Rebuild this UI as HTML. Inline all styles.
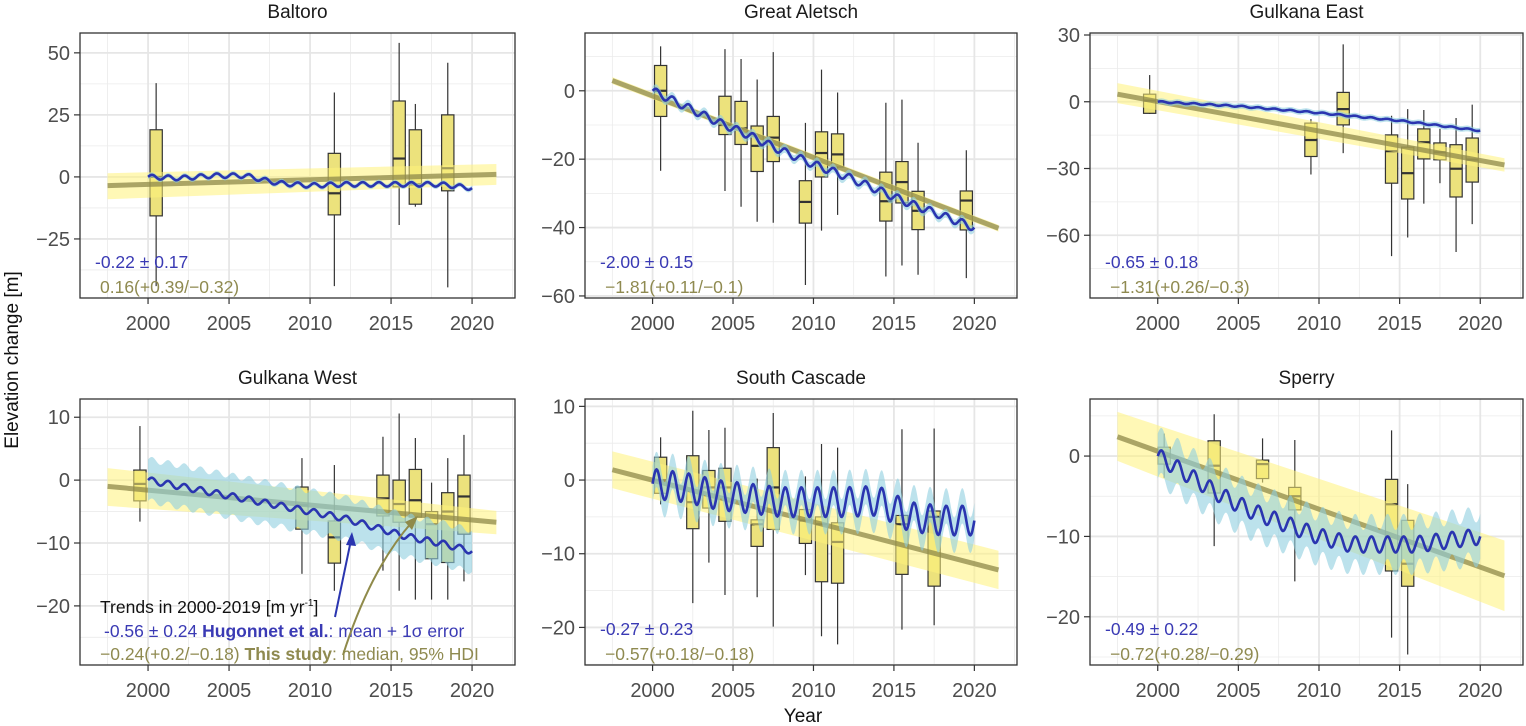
<!DOCTYPE html>
<html><head><meta charset="utf-8">
<style>
html,body{margin:0;padding:0;background:#fff;}
svg{display:block;font-family:"Liberation Sans",Arial,sans-serif;}
</style></head>
<body>
<svg id="chart" width="1526" height="726" viewBox="0 0 1526 726" xmlns="http://www.w3.org/2000/svg">
<text x="0" y="0" transform="translate(18,360) rotate(-90)" text-anchor="middle" font-size="19" fill="#111">Elevation change [m]</text>
<text x="803" y="722" text-anchor="middle" font-size="19" fill="#111">Year</text>
</svg>
<script>
// ---- Data: Baltoro ----
const baltoroBoxYear=[2000.5,2011.5,2015.5,2016.5,2018.5];
const baltoroLo=[-44,-44,-19.4,-12,-44.5];
const baltoroQ1=[-15.7,-15.3,-4,-11,-5.6];
const baltoroMed=[0,-6.6,7.4,-3,3.5];
const baltoroQ3=[19,9.5,30.6,19,25];
const baltoroHi=[37.8,34,54,29.4,46];
const baltoroHugYears=[2000,2002,2004,2006,2008,2010,2012,2014,2016,2018,2020];
const baltoroHugValues=[0,-0.5,0.5,0.5,-2.5,-3.5,-3,-3,-3,-3,-4.5];
const baltoroHugAmp=[0.9];
const baltoroHugErr=[1];
const baltoroTrend=[-3.5,1];
const baltoroTrendLo=[-9,-3.2];
const baltoroTrendHi=[1.5,5.2];
const baltoroLabels=["-0.22 ± 0.17","0.16(+0.39/−0.32)"];
const baltoroTicks=[50,25,0,-25];
// ---- Data: Great Aletsch ----
const aletschBoxYear=[2000.5,2004.5,2005.5,2006.5,2007.5,2009.5,2010.5,2011.5,2014.5,2015.5,2016.5,2019.5];
const aletschLo=[-23.4,-29.3,-33.9,-38.3,-38.6,-56.8,-40.9,-36.3,-54.3,-51.1,-53.8,-54.8];
const aletschQ1=[-7.5,-12.8,-15.7,-23.6,-20.7,-38.7,-25.2,-22.3,-38.1,-32.8,-40.6,-40.7];
const aletschMed=[0,-10,-11,-16.1,-13.7,-32.5,-18.2,-18.6,-32.3,-26.7,-35.1,-32.1];
const aletschQ3=[7.4,-1.6,-3.1,-10.3,-7.5,-26.3,-12,-12.6,-23.8,-20.7,-29.4,-29.3];
const aletschHi=[13,12.2,9.3,3.3,11.3,-9.4,6.2,-0.5,-3.5,-2.6,-15.2,-17.4];
const aletschHugYears=[2000,2002,2004,2006,2008,2010,2012,2014,2016,2018,2020];
const aletschHugValues=[0,-4.5,-9,-13,-17.5,-21.5,-25,-29,-33,-36.5,-40];
const aletschHugAmp=[1.1];
const aletschHugErr=[1.3];
const aletschTrend=[3,-40.2];
const aletschTrendLo=[2,-41.2];
const aletschTrendHi=[4,-39.2];
const aletschLabels=["-2.00 ± 0.15","−1.81(+0.11/−0.1)"];
const aletschTicks=[0,-20,-40,-60];
// ---- Data: Gulkana East ----
const gEastBoxYear=[1999.5,2009.5,2011.5,2014.5,2015.5,2016.5,2017.5,2018.5,2019.5];
const gEastLo=[-5.5,-32.7,-23.1,-69.4,-61,-45.8,-36.6,-67.5,-55];
const gEastQ1=[-5.2,-24.6,-10.4,-36.6,-43.7,-25.7,-26.1,-42.8,-36.1];
const gEastMed=[0.5,-17.2,-3.3,-22.2,-32.1,-18.2,-22.7,-30.1,-26];
const gEastQ3=[3.4,-9.6,4.2,-14.9,-20.4,-12.2,-18.5,-19.3,-16.3];
const gEastHi=[12,-7.8,25.8,-6.3,-3.3,-3.7,-12.2,-7.3,-1.3];
const gEastHugYears=[2000,2005,2010,2015,2020];
const gEastHugValues=[0,-2,-5,-8.5,-13];
const gEastHugAmp=[0.3];
const gEastHugErr=[1.3];
const gEastTrend=[3.4,-28.4];
const gEastTrendLo=[-0.6,-31.4];
const gEastTrendHi=[8.4,-25.4];
const gEastLabels=["-0.65 ± 0.18","−1.31(+0.26/−0.3)"];
const gEastTicks=[30,0,-30,-60];
// ---- Data: Gulkana West ----
const gWestBoxYear=[1999.5,2009.5,2011.5,2014.5,2015.5,2016.5,2017.5,2018.5,2019.5];
const gWestLo=[-6.6,-14.9,-17.6,-14.4,-17.6,-19,-19,-19,-16.1];
const gWestQ1=[-3.3,-7.8,-13.2,-5.7,-6.7,-5.9,-12.5,-13.1,-8.6];
const gWestMed=[-0.6,-4,-9.1,-2.9,-3.8,-3.2,-7,-5,-2.6];
const gWestQ3=[1.6,-1.1,-6.5,0.8,0,1.7,-5,-2,0.8];
const gWestHi=[8.6,3.5,2.4,6.9,10.6,6.7,-0.4,3.5,7.2];
const gWestHugYears=[2000,2002,2004,2006,2008,2010,2012,2014,2016,2018,2020];
const gWestHugValues=[0,-1,-2,-3,-4,-5,-6,-7.5,-9,-10,-11.3];
const gWestHugAmp=[0.5];
const gWestHugErr=[3.3];
const gWestTrend=[-1,-6.7];
const gWestTrendLo=[-4.1,-8.6];
const gWestTrendHi=[1.9,-4.9];
const gWestLabels=["-0.56 ± 0.24","−0.24(+0.2/−0.18)"];
const gWestTicks=[10,0,-10,-20];
// ---- Data: South Cascade ----
const sCascBoxYear=[2000.5,2002.5,2003.5,2004.5,2006.5,2007.5,2009.5,2010.5,2011.5,2015.5,2017.5];
const sCascLo=[-3.3,-16.7,-11.2,-15.6,-15.9,-19.9,-12.9,-21.2,-22.3,-20.3,-19.7];
const sCascQ1=[-1.8,-6.6,-3.8,-5.6,-9,-6.7,-8.6,-13.8,-14,-12.8,-14.4];
const sCascMed=[0,-3,-1,-1,-6,-1,-5.5,-6,-8.4,-6,-5];
const sCascQ3=[3.1,3.3,1.3,1.6,-5.4,4.4,-4,-5,-5.8,-4.8,-4.2];
const sCascHi=[5.8,9.4,6.8,7.1,0.2,9.1,0.5,4.9,4.4,6.9,7];
const sCascHugYears=[2000,2002,2004,2006,2008,2010,2012,2014,2016,2018,2020];
const sCascHugValues=[-0.5,-1,-2,-2.5,-3,-3,-3,-2.8,-5,-5.5,-5.5];
const sCascHugAmp=[2];
const sCascHugErr=[2.4];
const sCascTrend=[1.4,-12.2];
const sCascTrendLo=[-1.1,-14.8];
const sCascTrendHi=[3.9,-9.6];
const sCascLabels=["-0.27 ± 0.23","−0.57(+0.18/−0.18)"];
const sCascTicks=[10,0,-10,-20];
// ---- Data: Sperry ----
const sperryBoxYear=[2000.4,2003.5,2006.5,2008.5,2014.5,2015.5];
const sperryLo=[-2.7,-11.2,-3.3,-15.6,-22.6,-24.7];
const sperryQ1=[-1,-4.6,-2.8,-6.7,-14.3,-16.2];
const sperryMed=[0,-1.2,-1,-5,-6,-13.4];
const sperryQ3=[1.1,1.9,-0.5,-3.9,-2.9,-8];
const sperryHi=[2.8,5.2,2.2,2,3.2,-3.5];
const sperryHugYears=[2000,2002,2004,2006,2008,2010,2012,2014,2016,2018,2020];
const sperryHugValues=[0,-2.5,-5,-7,-8.5,-10,-11,-11,-11,-10.5,-10];
const sperryHugAmp=[1];
const sperryHugErr=[2.8];
const sperryTrend=[2.4,-14.9];
const sperryTrendLo=[-0.6,-19.3];
const sperryTrendHi=[5.5,-10.5];
const sperryLabels=["-0.49 ± 0.22","−0.72(+0.28/−0.29)"];
const sperryTicks=[0,-10,-20];

const xTicks=[2000,2005,2010,2015,2020];

const svg=document.getElementById('chart');
const NS='http://www.w3.org/2000/svg';
function mk(tag,attrs,parent){const e=document.createElementNS(NS,tag);for(const k in attrs)e.setAttribute(k,attrs[k]);(parent||svg).appendChild(e);return e;}

const panels=[
 {key:'baltoro',title:'Baltoro',L:80,R:515,T:33,B:298,y0:58,y1:-48.8,step:25,
  bx:baltoroBoxYear,lo:baltoroLo,q1:baltoroQ1,md:baltoroMed,q3:baltoroQ3,hi:baltoroHi,hy:baltoroHugYears,hv:baltoroHugValues,ha:baltoroHugAmp,he:baltoroHugErr,tr:baltoroTrend,tl:baltoroTrendLo,th:baltoroTrendHi,lab:baltoroLabels,ticks:baltoroTicks},
 {key:'great-aletsch',title:'Great Aletsch',L:585,R:1017,T:33,B:298,y0:16.9,y1:-60.6,step:20,
  bx:aletschBoxYear,lo:aletschLo,q1:aletschQ1,md:aletschMed,q3:aletschQ3,hi:aletschHi,hy:aletschHugYears,hv:aletschHugValues,ha:aletschHugAmp,he:aletschHugErr,tr:aletschTrend,tl:aletschTrendLo,th:aletschTrendHi,lab:aletschLabels,ticks:aletschTicks},
 {key:'gulkana-east',title:'Gulkana East',L:1090,R:1523,T:33,B:298,y0:30.9,y1:-88.2,step:30,
  bx:gEastBoxYear,lo:gEastLo,q1:gEastQ1,md:gEastMed,q3:gEastQ3,hi:gEastHi,hy:gEastHugYears,hv:gEastHugValues,ha:gEastHugAmp,he:gEastHugErr,tr:gEastTrend,tl:gEastTrendLo,th:gEastTrendHi,lab:gEastLabels,ticks:gEastTicks},
 {key:'gulkana-west',title:'Gulkana West',L:80,R:515,T:399,B:665,y0:12.9,y1:-29.4,step:10,legend:true,
  bx:gWestBoxYear,lo:gWestLo,q1:gWestQ1,md:gWestMed,q3:gWestQ3,hi:gWestHi,hy:gWestHugYears,hv:gWestHugValues,ha:gWestHugAmp,he:gWestHugErr,tr:gWestTrend,tl:gWestTrendLo,th:gWestTrendHi,lab:gWestLabels,ticks:gWestTicks},
 {key:'south-cascade',title:'South Cascade',L:585,R:1017,T:399,B:665,y0:11,y1:-25.1,step:10,
  bx:sCascBoxYear,lo:sCascLo,q1:sCascQ1,md:sCascMed,q3:sCascQ3,hi:sCascHi,hy:sCascHugYears,hv:sCascHugValues,ha:sCascHugAmp,he:sCascHugErr,tr:sCascTrend,tl:sCascTrendLo,th:sCascTrendHi,lab:sCascLabels,ticks:sCascTicks},
 {key:'sperry',title:'Sperry',L:1090,R:1523,T:399,B:665,y0:7.1,y1:-26,step:10,
  bx:sperryBoxYear,lo:sperryLo,q1:sperryQ1,md:sperryMed,q3:sperryQ3,hi:sperryHi,hy:sperryHugYears,hv:sperryHugValues,ha:sperryHugAmp,he:sperryHugErr,tr:sperryTrend,tl:sperryTrendLo,th:sperryTrendHi,lab:sperryLabels,ticks:sperryTicks}
];
const X0=1995.8,X1=2022.65;

function interp(xs,ys,t){if(t<=xs[0])return ys[0];for(let i=1;i<xs.length;i++){if(t<=xs[i]){const f=(t-xs[i-1])/(xs[i]-xs[i-1]);return ys[i-1]+f*(ys[i]-ys[i-1]);}}return ys[ys.length-1];}

panels.forEach(p=>{
  const g=mk('g',{});
  
  
  const xs=t=>p.L+(t-X0)/(X1-X0)*(p.R-p.L);
  const ys=v=>p.T+(p.y0-v)/(p.y0-p.y1)*(p.B-p.T);
  const cid='clip-'+p.key;
  const cp=mk('clipPath',{id:cid},g);mk('rect',{x:p.L,y:p.T,width:p.R-p.L,height:p.B-p.T},cp);
  for(let t=1997.5;t<=2022.5;t+=5){mk('line',{x1:xs(t),x2:xs(t),y1:p.T,y2:p.B,stroke:'#ebebeb','stroke-width':0.8},g);}
  const hs=p.step/2;
  for(let v=Math.ceil(p.y1/hs)*hs;v<=p.y0;v+=hs){mk('line',{x1:p.L,x2:p.R,y1:ys(v),y2:ys(v),stroke:'#ebebeb','stroke-width':0.8},g);}
  xTicks.forEach(t=>mk('line',{x1:xs(t),x2:xs(t),y1:p.T,y2:p.B,stroke:'#e6e6e6','stroke-width':1.8},g));
  p.ticks.forEach(v=>mk('line',{x1:p.L,x2:p.R,y1:ys(v),y2:ys(v),stroke:'#e6e6e6','stroke-width':1.8},g));
  const pg=mk('g',{'clip-path':'url(#'+cid+')'},g);
  p.bx.forEach((t,i)=>{
    const bg=mk('g',{},pg);
    
    
    const cx=xs(t),w=xs(t+0.38)-xs(t-0.38);
    mk('line',{x1:cx,x2:cx,y1:ys(p.hi[i]),y2:ys(p.lo[i]),stroke:'#333','stroke-width':1.2},bg);
    mk('rect',{x:cx-w/2,y:ys(p.q3[i]),width:w,height:ys(p.q1[i])-ys(p.q3[i]),fill:'#ece27c',stroke:'#333','stroke-width':1.2},bg);
    mk('line',{x1:cx-w/2,x2:cx+w/2,y1:ys(p.md[i]),y2:ys(p.md[i]),stroke:'#333','stroke-width':2.2},bg);
  });
  const a=1997.5,b=2021.5;
  const band=mk('polygon',{points:`${xs(a)},${ys(p.th[0])} ${xs(b)},${ys(p.th[1])} ${xs(b)},${ys(p.tl[1])} ${xs(a)},${ys(p.tl[0])}`,fill:'#fff27a','fill-opacity':0.55},pg);
  
  
  const tl=mk('line',{x1:xs(a),y1:ys(p.tr[0]),x2:xs(b),y2:ys(p.tr[1]),stroke:'#8f8a4a','stroke-opacity':0.75,'stroke-width':5},pg);
  
  
  const up=[],dn=[],ln=[];
  for(let t=2000;t<=2020.001;t+=0.04){
    const v=interp(p.hy,p.hv,t)+p.ha[0]*Math.sin(2*Math.PI*(t-2000));
    ln.push(xs(t)+','+ys(v));up.push(xs(t)+','+ys(v+p.he[0]));dn.unshift(xs(t)+','+ys(v-p.he[0]));
  }
  const hb=mk('polygon',{points:up.concat(dn).join(' '),fill:'#8fcfe0','fill-opacity':0.6},pg);
  
  
  const hl=mk('polyline',{points:ln.join(' '),fill:'none',stroke:'#2a35b0','stroke-width':2.6},pg);
  
  
  mk('rect',{x:p.L,y:p.T,width:p.R-p.L,height:p.B-p.T,fill:'none',stroke:'#333','stroke-width':1.3},g);
  p.ticks.forEach(v=>{
    mk('line',{x1:p.L-6,x2:p.L,y1:ys(v),y2:ys(v),stroke:'#333','stroke-width':1.2},g);
    const tx=mk('text',{x:p.L-10,y:ys(v)+7,'text-anchor':'end','font-size':20,fill:'#4d4d4d'},g);
    tx.textContent=v<0?'−'+Math.abs(v):String(v);
    
    
  });
  xTicks.forEach(t=>{
    mk('line',{x1:xs(t),x2:xs(t),y1:p.B,y2:p.B+6,stroke:'#333','stroke-width':1.2},g);
    const tx=mk('text',{x:xs(t),y:p.B+32,'text-anchor':'middle','font-size':20,fill:'#4d4d4d'},g);
    tx.textContent=t;
    
    
  });
  const ti=mk('text',{x:(p.L+p.R)/2,y:p.T-15,'text-anchor':'middle','font-size':19,fill:'#1a1a1a'},g);
  ti.textContent=p.title;
  
  
  if(!p.legend){
    const l1=mk('text',{x:p.L+15,y:p.B-30,'font-size':17.5,fill:'#3a3ab4'},g);l1.textContent=p.lab[0];
    
    
    const l2=mk('text',{x:p.L+20,y:p.B-5,'font-size':17.5,fill:'#8f8a50'},g);l2.textContent=p.lab[1];
    
    
  } else {
    const t0=mk('text',{x:p.L+20,y:p.B-52,'font-size':17.5,fill:'#111'},g);
    t0.innerHTML='Trends in 2000-2019 [m yr<tspan dy="-7" font-size="10">-1</tspan><tspan dy="7">]</tspan>';
    
    
    const t1=mk('text',{x:p.L+24,y:p.B-28,'font-size':17.5,fill:'#3a3ab4'},g);
    t1.innerHTML=p.lab[0]+'  <tspan font-weight="bold">Hugonnet et al.</tspan>: mean + 1σ error';
    
    
    const t2=mk('text',{x:p.L+20,y:p.B-5,'font-size':17.5,fill:'#8f8a50'},g);
    t2.innerHTML=p.lab[1]+' <tspan font-weight="bold">This study</tspan>: median, 95% HDI';
    
    
    const ar1=mk('path',{d:`M${335},${617} L${351},${540}`,stroke:'#2a35b0','stroke-width':2,fill:'none'},g);
    
    
    mk('polygon',{points:'352,532 346,545 356,546',fill:'#2a35b0'},g);
    const ar2=mk('path',{d:`M343,655 Q370,570 412,522`,stroke:'#8f8a4a','stroke-width':2,fill:'none'},g);
    
    
    mk('polygon',{points:'418,516 405,522 412,530',fill:'#8f8a4a'},g);
  }
});
</script>
</body></html>
